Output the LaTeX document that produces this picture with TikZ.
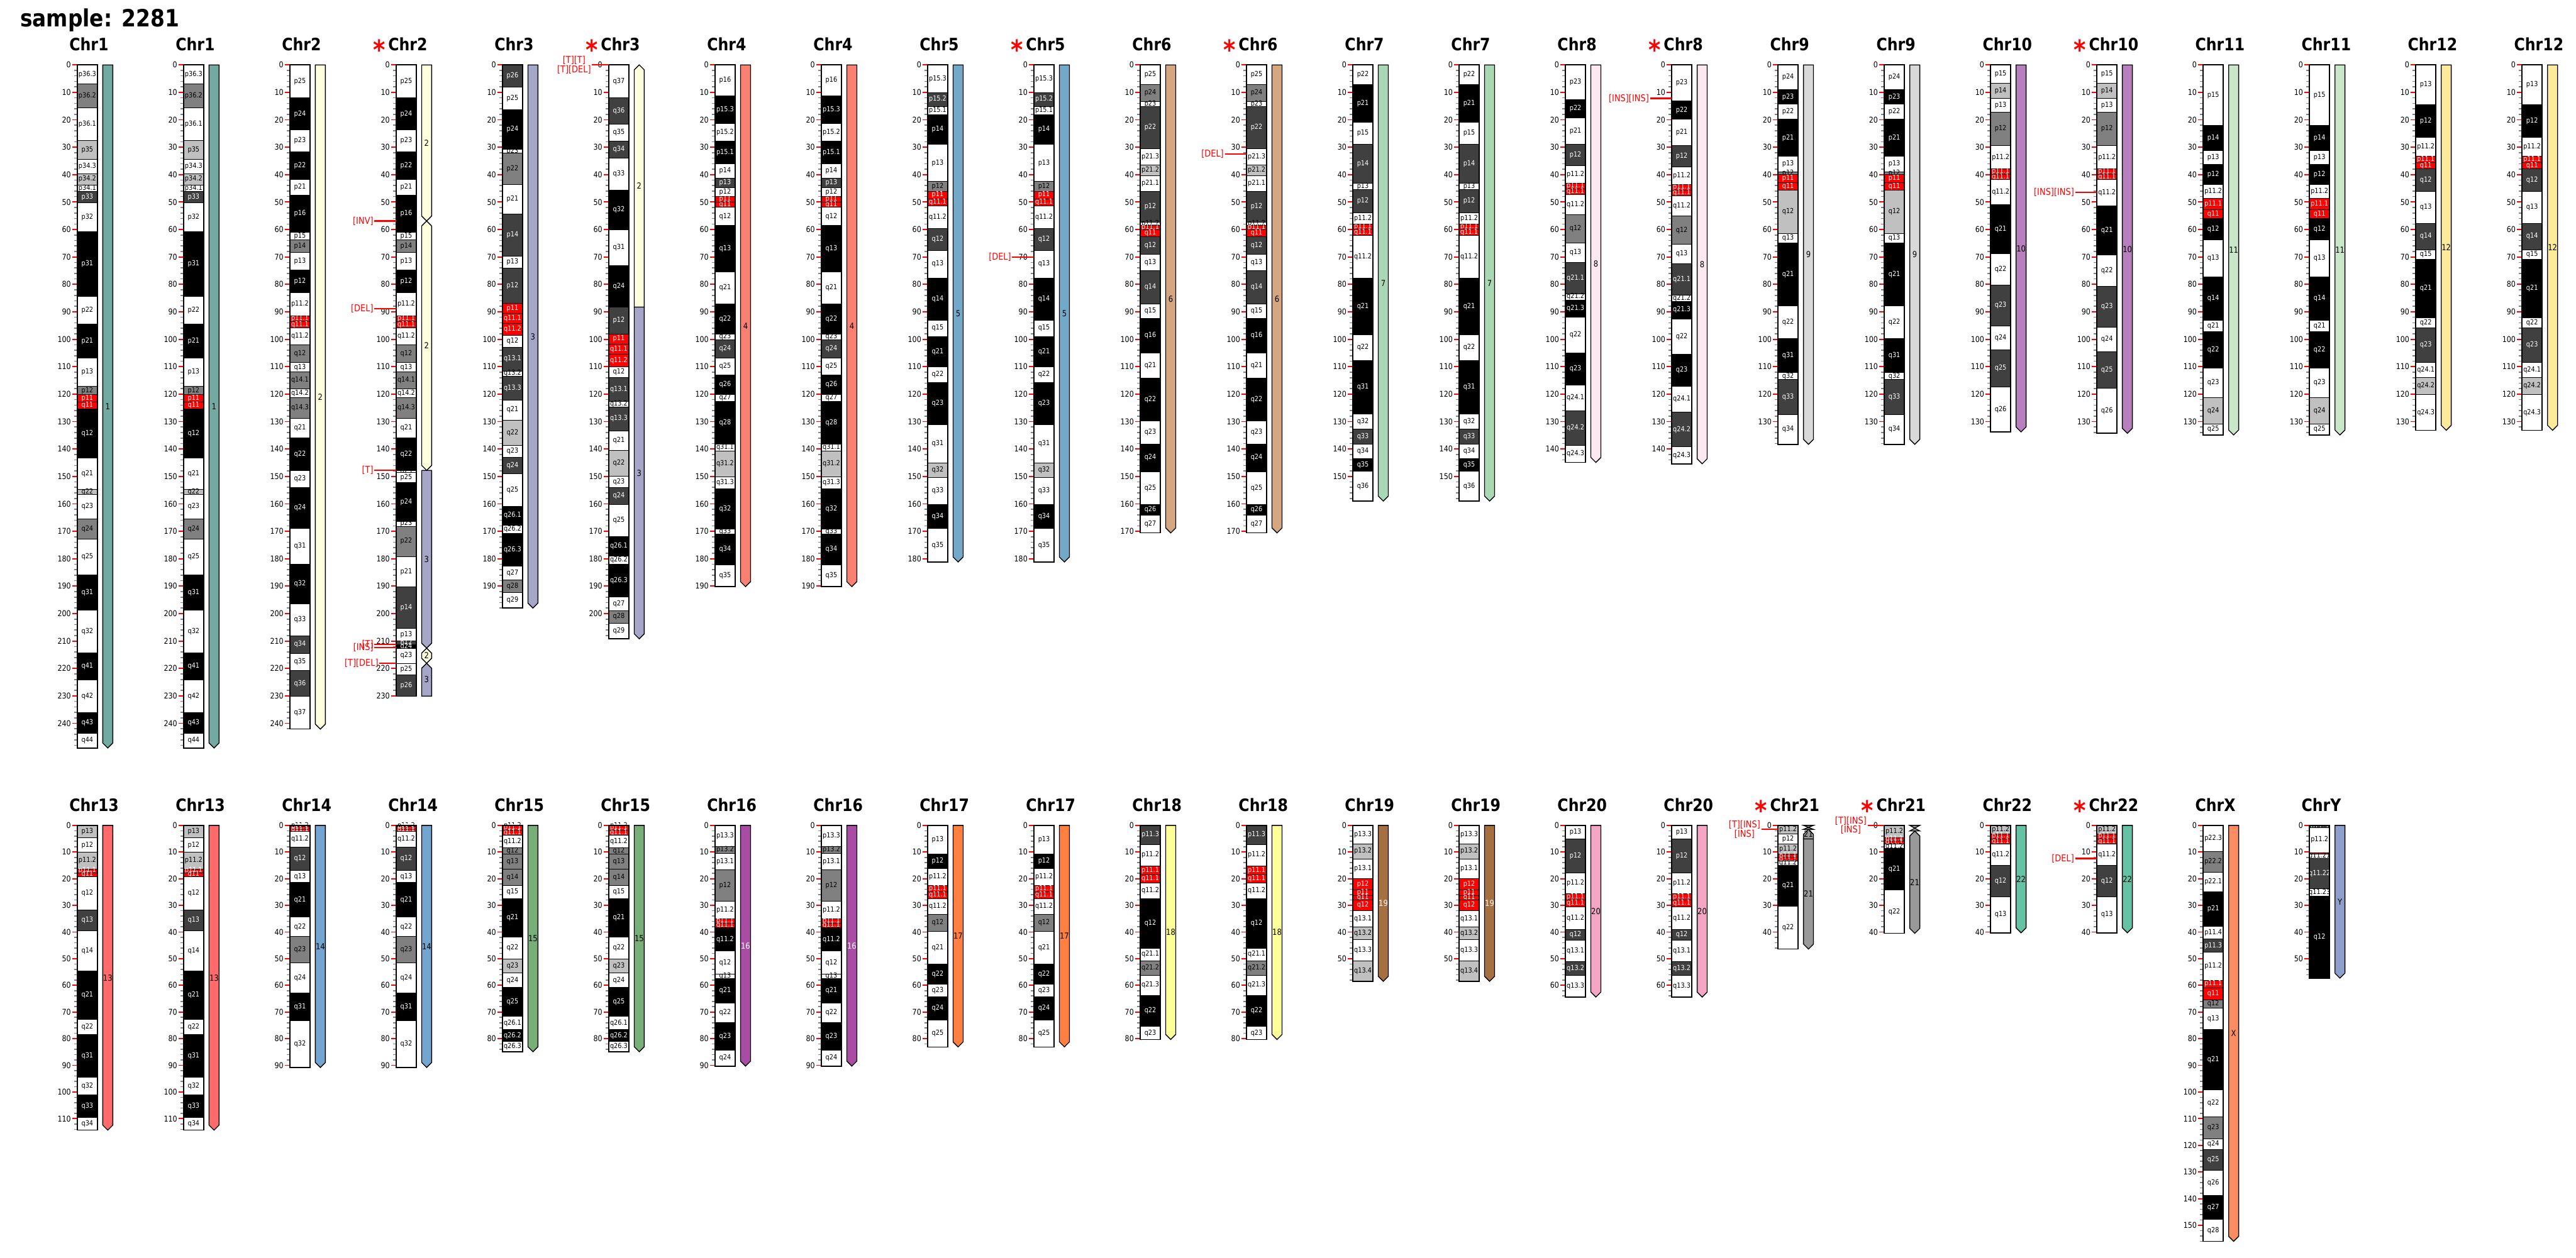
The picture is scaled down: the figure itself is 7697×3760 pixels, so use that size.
\documentclass[tikz,border=0pt]{standalone}
\usepackage{fontspec}
\setmainfont{DejaVu Sans}[FakeStretch=0.87]
\definecolor{fw}{HTML}{FFFFFF}
\definecolor{fl}{HTML}{C0C0C0}
\definecolor{fm}{HTML}{808080}
\definecolor{fd}{HTML}{404040}
\definecolor{fk}{HTML}{000000}
\definecolor{fr}{HTML}{FF0000}
\colorlet{tw}{black}\colorlet{tl}{black}\colorlet{tm}{black}
\colorlet{td}{white}\colorlet{tk}{white}\colorlet{tr}{white}
\definecolor{chrc1}{HTML}{72AAA1}
\definecolor{chrc2}{HTML}{FFFFDD}
\definecolor{chrc3}{HTML}{A6A6C8}
\definecolor{chrc4}{HTML}{FA8072}
\definecolor{chrc5}{HTML}{72A9C8}
\definecolor{chrc6}{HTML}{D4A780}
\definecolor{chrc7}{HTML}{A8D8B4}
\definecolor{chrc8}{HTML}{FCE8F0}
\definecolor{chrc9}{HTML}{D9D9D9}
\definecolor{chrc10}{HTML}{B87FBE}
\definecolor{chrc11}{HTML}{C8E6C8}
\definecolor{chrc12}{HTML}{FDEB9C}
\definecolor{chrc13}{HTML}{FF6B6B}
\definecolor{chrc14}{HTML}{72A6D1}
\definecolor{chrc15}{HTML}{78AF78}
\definecolor{chrc16}{HTML}{A84CA4}
\definecolor{chrc17}{HTML}{FF8040}
\definecolor{chrc18}{HTML}{FFFF99}
\definecolor{chrc19}{HTML}{A66F40}
\definecolor{chrc20}{HTML}{F4A6C4}
\definecolor{chrc21}{HTML}{999999}
\definecolor{chrc22}{HTML}{66C2A5}
\definecolor{chrcX}{HTML}{FC8D62}
\definecolor{chrcY}{HTML}{8DA0CB}
\tikzset{
  band/.style={draw=black, line width=1},
  bandlabel/.style={inner sep=0, font=\fontsize{21}{21}\selectfont},
  chromoutline/.style={draw=black, line width=3},
  tickminor/.style={draw=gray, line width=3},
  tickmajor/.style={draw=red, line width=3.5},
  ticklabel/.style={anchor=east, inner sep=0, font=\fontsize{24}{24}\selectfont},
  chrtitle/.style={anchor=base west, inner sep=0, font=\bfseries\fontsize{51}{51}\selectfont},
  startext/.style={anchor=base, inner sep=0, text=red, font=\bfseries\fontsize{80}{80}\selectfont},
  barshape/.style={draw=black, line width=2.5, line join=miter},
  barlabel/.style={inner sep=0, font=\fontsize{25}{25}\selectfont},
  markline/.style={draw=red, line width=4},
  marklabel/.style={anchor=east, inner sep=0, text=red, align=center, font=\fontsize{28}{28}\selectfont},
}
\newcommand\setpos[2]{%
  \pgfmathsetmacro\X{231+317.6*#1}%
  \ifnum#2=1 \def\yz{194}\def\kk{8.2}\else\def\yz{2467}\def\kk{7.97}\fi}
\newcommand\ideo[5]{%
  \setpos{#1}{#2}%
  \pgfmathtruncatemacro\mxm{2*floor(#3/2)}%
  \pgfmathtruncatemacro\mxM{10*floor(#3/10)}%
  \foreach \tk in {0,2,...,\mxm}{\draw[tickminor] ({\X-9},{\yz+\tk*\kk}) -- ({\X-2},{\yz+\tk*\kk});}%
  \foreach \bE/\bC/\bL [remember=\bE as \bS (initially 0)] in #5 {%
    \draw[band, fill=f\bC] (\X,{\yz+\bS*\kk}) rectangle ({\X+60},{\yz+\bE*\kk});
    \node[bandlabel, text=t\bC] at ({\X+30},{\yz+(\bS+\bE)/2*\kk}) {\bL};
  }%
  \draw[chromoutline] (\X,\yz) rectangle ({\X+60},{\yz+#3*\kk});
  \foreach \tk in {0,10,...,\mxM}{%
    \draw[tickmajor] ({\X-15},{\yz+\tk*\kk}) -- ({\X-2},{\yz+\tk*\kk});
    \node[ticklabel] at ({\X-19},{\yz+\tk*\kk}) {\tk};
  }%
  \node[chrtitle] (title-#2-#1) at ({\X-24},{\yz-42}) {#4};
}
\newcommand\barseg[9]{%
  \setpos{#1}{#2}%
  \pgfmathsetmacro\xl{\X+76}\pgfmathsetmacro\xr{\X+106}\pgfmathsetmacro\xc{\X+91}%
  \pgfmathsetmacro\ys{\yz+#3*\kk}\pgfmathsetmacro\ye{\yz+#4*\kk}%
  \pgfmathsetmacro\ysp{\ys+15}\pgfmathsetmacro\yep{\ye-15}%
  \pgfmathsetmacro\ym{(\ys+\ye)/2}%
  \ifnum#7=1 \def\toppart{(\xl,\ysp) -- (\xc,\ys) -- (\xr,\ysp)}\else\def\toppart{(\xl,\ys) -- (\xr,\ys)}\fi
  \ifnum#8=1 \def\botpart{(\xr,\yep) -- (\xc,\ye) -- (\xl,\yep)}\else\def\botpart{(\xr,\ye) -- (\xl,\ye)}\fi
  \draw[barshape, fill=#5] \toppart -- \botpart -- cycle;
  \node[barlabel, text=#9] at (\xc,\ym) {#6};
}
\newcommand\barhour[5]{%
  \setpos{#1}{#2}%
  \pgfmathsetmacro\xl{\X+76}\pgfmathsetmacro\xr{\X+106}\pgfmathsetmacro\xc{\X+91}%
  \pgfmathsetmacro\ys{\yz+#3*\kk}\pgfmathsetmacro\ye{\yz+#4*\kk}%
  \pgfmathsetmacro\ym{(\ys+\ye)/2}%
  \draw[barshape, fill=#5] (\xl,\ys) -- (\xr,\ys) -- (\xc,\ym) -- cycle;
  \draw[barshape, fill=#5] (\xl,\ye) -- (\xr,\ye) -- (\xc,\ym) -- cycle;
}
\newcommand\normbar[5]{\barseg{#1}{#2}{0}{#3}{#4}{#5}{0}{1}{black}}
\newcommand\abstar[2]{\setpos{#1}{#2}\node[startext] (star-#2-#1) at ({\X-51},{\yz-16}) {*};}
\newcommand\mutmark[5]{%
  \setpos{#1}{#2}%
  \draw[markline] ({\X-#4},{\yz+#3*\kk}) -- (\X,{\yz+#3*\kk});
  \node[marklabel] at ({\X-#4-3},{\yz+#3*\kk}) {#5};
}
% ---------------- band data ----------------
\def\bOne{6.9/w/p36.3, 15.6/m/p36.2, 27.6/w/p36.1, 34.3/l/p35, 39.6/w/p34.3, 43.7/l/p34.2, 46.1/w/p34.1, 50.2/d/p33, 60.8/w/p32, 84.3/k/p31, 94.4/w/p22, 106.8/k/p21, 117.2/w/p13, 120.2/m/p12, 122.8/r/p11, 125.3/r/q11, 143.2/k/q12, 154.8/w/q21, 156.6/l/q22, 165.4/w/q23, 172.8/m/q24, 185.9/w/q25, 198.7/k/q31, 214.2/w/q32, 224.1/k/q41, 236.1/w/q42, 243.5/k/q43, 249.0/w/q44}
\def\bTwo{12.0/w/p25, 23.7/k/p24, 31.6/w/p23, 41.7/k/p22, 47.4/w/p21, 61.0/k/p16, 63.8/w/p15, 68.4/m/p14, 74.8/w/p13, 82.9/k/p12, 91.4/w/p11.2, 93.5/r/p11.1, 95.8/r/q11.1, 102.0/w/q11.2, 108.5/m/q12, 111.9/w/q13, 118.1/m/q14.1, 121.3/w/q14.2, 128.8/m/q14.3, 135.9/w/q21, 147.8/k/q22, 154.0/w/q23, 169.0/k/q24, 181.9/w/q31, 196.5/k/q32, 208.0/w/q33, 214.4/d/q34, 220.8/w/q35, 230.1/d/q36, 242.1/w/q37}
\def\bTwoB{12.0/w/p25, 23.7/k/p24, 31.6/w/p23, 41.7/k/p22, 47.4/w/p21, 61.0/k/p16, 63.8/w/p15, 68.4/m/p14, 74.8/w/p13, 82.9/k/p12, 91.4/w/p11.2, 93.5/r/p11.1, 95.8/r/q11.1, 102.0/w/q11.2, 108.5/m/q12, 111.9/w/q13, 118.1/m/q14.1, 121.3/w/q14.2, 128.8/m/q14.3, 135.9/w/q21, 147.8/k/q22, 148.5/w/q23, 152.2/w/p25, 166.3/k/p24, 168.1/w/p23, 179.2/m/p22, 190.2/w/p21, 205.4/d/p14, 210.0/w/p13, 211.4/d/p12, 212.6/k/q24, 218.1/w/q23, 222.3/w/p25, 230.1/d/p26}
\def\bThree{8.1/d/p26, 16.2/w/p25, 30.8/k/p24, 32.0/w/p23, 43.6/m/p22, 54.3/w/p21, 69.7/d/p14, 74.0/w/p13, 86.9/d/p12, 90.6/r/p11, 94.1/r/q11.1, 98.5/r/q11.2, 102.8/w/q12, 111.5/d/q13.1, 113.4/w/q13.2, 122.1/d/q13.3, 129.4/w/q21, 138.7/l/q22, 143.0/w/q23, 149.0/d/q24, 160.8/w/q25, 167.7/k/q26.1, 170.8/w/q26.2, 182.7/k/q26.3, 187.8/w/q27, 192.3/m/q28, 198.0/w/q29}
\def\bThreeB{12.0/w/q37, 21.5/d/q36, 27.7/w/q35, 34.0/d/q34, 45.6/w/q33, 60.0/k/q32, 73.1/w/q31, 88.3/k/q24, 98.0/d/p12, 101.7/r/p11, 105.5/r/q11.1, 109.9/r/q11.2, 114.0/w/q12, 122.7/d/q13.1, 124.6/w/q13.2, 133.3/d/q13.3, 140.4/w/q21, 149.9/l/q22, 154.1/w/q23, 160.1/d/q24, 171.9/w/q25, 179.0/k/q26.1, 182.0/w/q26.2, 193.8/k/q26.3, 198.9/w/q27, 203.4/m/q28, 209.2/w/q29}
\def\bFour{11.3/w/p16, 21.4/k/p15.3, 27.7/w/p15.2, 36.0/k/p15.1, 41.2/w/p14, 44.8/d/p13, 48.0/w/p12, 50.0/r/p11, 51.9/r/q11, 58.5/w/q12, 75.3/k/q13, 87.1/w/q21, 98.0/k/q22, 100.1/w/q23, 106.7/d/q24, 113.0/w/q25, 120.0/k/q26, 122.7/w/q27, 138.3/k/q28, 140.6/w/q31.1, 150.1/l/q31.2, 154.4/w/q31.3, 169.1/k/q32, 171.0/w/q33, 182.2/k/q34, 190.2/w/q35}
\def\bFive{10.0/w/p15.3, 15.1/d/p15.2, 18.2/w/p15.1, 28.9/k/p14, 42.5/w/p13, 46.0/m/p12, 48.8/r/p11, 51.4/r/q11.1, 59.5/w/q11.2, 67.5/d/q12, 77.6/w/q13, 93.0/k/q14, 98.9/w/q15, 110.0/k/q21, 115.8/w/q22, 131.0/k/q23, 145.0/w/q31, 150.3/l/q32, 160.3/w/q33, 169.0/k/q34, 181.2/w/q35}
\def\bSix{7.0/w/p25, 13.3/m/p24, 15.1/w/p23, 30.4/d/p22, 36.5/w/p21.3, 40.3/l/p21.2, 46.0/w/p21.1, 57.2/d/p12, 58.4/w/p11.2, 60.0/r/p11.1, 62.5/r/q11, 69.0/d/q12, 75.0/w/q13, 87.0/d/q14, 92.4/w/q15, 104.9/k/q16, 114.2/w/q21, 129.8/k/q22, 138.1/w/q23, 148.2/k/q24, 160.3/w/q25, 164.0/k/q26, 170.6/w/q27}
\def\bSeven{7.2/w/p22, 20.9/k/p21, 28.9/w/p15, 43.2/d/p14, 45.3/w/p13, 53.8/d/p12, 58.0/w/p11.2, 59.9/r/p11.1, 62.1/r/q11.1, 77.8/w/q11.2, 98.4/k/q21, 107.6/w/q22, 127.3/k/q31, 132.8/w/q32, 138.3/d/q33, 143.4/w/q34, 148.1/k/q35, 159.0/w/q36}
\def\bEight{12.6/w/p23, 19.3/k/p22, 28.9/w/p21, 36.7/d/p12, 43.1/w/p11.2, 45.1/r/p11.1, 47.2/r/q11.1, 54.6/w/q11.2, 64.9/m/q12, 71.9/w/q13, 83.4/d/q21.1, 85.6/w/q21.2, 92.0/k/q21.3, 104.9/w/q22, 116.6/k/q23, 126.1/w/q24.1, 138.7/d/q24.2, 144.9/w/q24.3}
\def\bEightB{13.1/w/p23, 19.8/k/p22, 29.4/w/p21, 37.2/d/p12, 43.6/w/p11.2, 45.6/r/p11.1, 47.7/r/q11.1, 55.1/w/q11.2, 65.4/m/q12, 72.4/w/q13, 83.9/d/q21.1, 86.1/w/q21.2, 92.5/k/q21.3, 105.4/w/q22, 117.1/k/q23, 126.6/w/q24.1, 139.2/d/q24.2, 145.4/w/q24.3}
\def\bNine{9.0/w/p24, 14.3/k/p23, 19.8/w/p22, 33.3/k/p21, 39.0/w/p13, 39.8/m/p12, 42.9/r/p11, 45.6/r/q11, 61.5/l/q12, 64.8/w/q13, 87.8/k/q21, 99.7/w/q22, 112.1/k/q31, 114.7/w/q32, 127.4/d/q33, 138.3/w/q34}
\def\bTen{6.6/w/p15, 12.2/l/p14, 17.2/w/p13, 29.4/m/p12, 37.9/w/p11.2, 39.9/r/p11.1, 41.7/r/q11.1, 50.9/w/q11.2, 68.7/k/q21, 80.2/w/q22, 95.1/d/q23, 103.9/w/q24, 117.3/d/q25, 133.8/w/q26}
\def\bTenB{6.6/w/p15, 12.2/l/p14, 17.2/w/p13, 29.4/m/p12, 37.9/w/p11.2, 39.9/r/p11.1, 41.7/r/q11.1, 51.4/w/q11.2, 69.2/k/q21, 80.7/w/q22, 95.6/d/q23, 104.4/w/q24, 117.8/d/q25, 134.3/w/q26}
\def\bEleven{22.0/w/p15, 31.1/k/p14, 36.3/w/p13, 43.5/k/p12, 48.7/w/p11.2, 52.7/r/p11.1, 55.9/r/q11, 63.7/k/q12, 77.3/w/q13, 93.0/k/q14, 97.2/w/q21, 110.5/k/q22, 121.3/w/q23, 130.8/l/q24, 134.9/w/q25}
\def\bTwelve{14.4/w/p13, 26.3/k/p12, 33.2/w/p11.2, 35.5/r/p11.1, 37.8/r/q11, 46.0/d/q12, 57.7/w/q13, 67.3/d/q14, 70.8/w/q15, 92.2/k/q21, 95.8/w/q22, 108.5/d/q23, 113.8/w/q24.1, 120.2/l/q24.2, 133.2/w/q24.3}
\def\bThirteen{4.6/l/p13, 10.1/w/p12, 16.3/l/p11.2, 17.7/r/p11.1, 19.1/r/q11, 31.6/w/q12, 39.5/d/q13, 54.5/w/q14, 72.8/k/q21, 78.4/w/q22, 94.5/k/q31, 101.0/w/q32, 109.6/k/q33, 114.3/w/q34}
\def\bFourteen{0.3/l/p11.2, 1.2/r/p11.1, 2.2/r/q11.1, 8.0/w/q11.2, 16.9/d/q12, 21.4/w/q13, 34.4/k/q21, 41.7/w/q22, 51.5/m/q23, 62.8/w/q24, 73.3/k/q31, 90.8/w/q32}
\def\bFifteen{0.2/l/p11.2, 1.8/r/p11.1, 3.6/r/q11.1, 8.3/w/q11.2, 10.7/m/q12, 16.3/m/q13, 22.6/m/q14, 27.4/w/q15, 41.8/k/q21, 50.1/w/q22, 55.3/l/q23, 60.8/w/q24, 71.6/k/q25, 76.6/w/q26.1, 81.0/k/q26.2, 84.9/w/q26.3}
\def\bSixteen{7.8/w/p13.3, 10.4/m/p13.2, 16.6/w/p13.1, 28.4/m/p12, 35.1/w/p11.2, 36.6/r/p11.1, 38.4/r/q11.1, 47.1/k/q11.2, 55.8/w/q12, 57.3/w/q13, 66.6/k/q21, 74.0/w/q22, 84.2/k/q23, 90.3/w/q24}
\def\bSeventeen{10.7/w/p13, 16.1/k/p12, 22.5/w/p11.2, 24.8/r/p11.1, 27.4/r/q11.1, 33.3/w/q11.2, 39.7/m/q12, 52.0/w/q21, 59.4/k/q22, 64.3/w/q23, 73.0/k/q24, 83.1/w/q25}
\def\bEighteen{7.1/d/p11.3, 15.1/w/p11.2, 18.6/r/p11.1, 21.5/r/q11.1, 27.4/w/q11.2, 46.0/k/q12, 50.7/w/q21.1, 56.1/m/q21.2, 63.7/w/q21.3, 75.4/k/q22, 80.3/w/q23}
\def\bNineteen{6.9/w/p13.3, 12.5/l/p13.2, 19.8/w/p13.1, 24.2/r/p12, 26.2/r/p11, 28.0/r/q11, 31.9/r/q12, 38.0/w/q13.1, 42.8/l/q13.2, 50.9/w/q13.3, 58.5/l/q13.4}
\def\bTwenty{5.1/w/p13, 17.9/d/p12, 25.5/w/p11.2, 28.0/r/p11.1, 30.4/r/q11.1, 39.0/w/q11.2, 43.1/d/q12, 51.1/w/q13.1, 56.3/d/q13.2, 64.4/w/q13.3}
\def\bTwentyOneA{3.05/l/p11.2, 7.0/w/p12, 10.8/l/p11.2, 12.0/r/p11.1, 13.2/r/q11.1, 15.0/w/q11.2, 30.3/k/q21, 46.4/w/q22}
\def\bTwentyOneB{4.5/l/p11.2, 5.7/r/p11.1, 7.0/r/q11.1, 8.7/w/q11.2, 24.2/k/q21, 40.5/w/q22}
\def\bTwentyTwo{3.05/l/p11.2, 5.0/r/p11.1, 7.0/r/q11.1, 14.9/w/q11.2, 26.7/d/q12, 40.3/w/q13}
\def\bX{9.7/w/p22.3, 17.5/m/p22.2, 24.9/w/p22.1, 37.8/k/p21, 42.6/w/p11.4, 47.6/d/p11.3, 58.0/w/p11.2, 60.9/r/p11.1, 65.4/r/q11, 68.4/m/q12, 76.6/w/q13, 99.1/k/q21, 109.2/w/q22, 117.4/m/q23, 121.6/w/q24, 129.3/d/q25, 138.8/w/q26, 147.8/k/q27, 156.0/w/q28}
\def\bY{0.7/d/p11.3, 10.2/w/p11.2, 10.6/r/{}, 12.4/w/q11.21, 23.7/d/q11.22, 26.5/w/q11.23, 57.3/k/q12}
\begin{document}
\begin{tikzpicture}[x=1pt,y=-1pt]
\useasboundingbox (0,0) rectangle (7697,3760);
\fill[white] (0,0) rectangle (7697,3760);
\node[anchor=base west, inner sep=0, font=\bfseries\fontsize{71}{71}\selectfont] (sample) at (60,80) {sample: 2281};
% ---------------- row 1 ----------------
\ideo{0}{1}{249.0}{Chr1}{\bOne}\normbar{0}{1}{249.0}{chrc1}{1}
\ideo{1}{1}{249.0}{Chr1}{\bOne}\normbar{1}{1}{249.0}{chrc1}{1}
\ideo{2}{1}{242.1}{Chr2}{\bTwo}\normbar{2}{1}{242.1}{chrc2}{2}
\ideo{3}{1}{230.1}{Chr2}{\bTwoB}\abstar{3}{1}
\barseg{3}{1}{0}{56.9}{chrc2}{2}{0}{1}{black}
\barseg{3}{1}{56.9}{147.8}{chrc2}{2}{1}{1}{black}
\barseg{3}{1}{147.8}{212.6}{chrc3}{3}{0}{1}{black}
\barseg{3}{1}{212.6}{218.1}{chrc2}{2}{1}{1}{black}
\barseg{3}{1}{218.1}{230.1}{chrc3}{3}{1}{0}{black}
\mutmark{3}{1}{56.9}{65}{[INV]}
\mutmark{3}{1}{88.9}{65}{[DEL]}
\mutmark{3}{1}{147.8}{65}{[T]}
\mutmark{3}{1}{211.2}{65}{[T]}
\mutmark{3}{1}{212.4}{65}{[INS]}
\mutmark{3}{1}{218.1}{50}{[T][DEL]}
\ideo{4}{1}{198.0}{Chr3}{\bThree}\normbar{4}{1}{198.0}{chrc3}{3}
\ideo{5}{1}{209.2}{Chr3}{\bThreeB}\abstar{5}{1}
\barseg{5}{1}{0}{88.3}{chrc2}{2}{1}{0}{black}
\barseg{5}{1}{88.3}{209.2}{chrc3}{3}{0}{1}{black}
\mutmark{5}{1}{0}{50}{[T][T]\\{}[T][DEL]}
\ideo{6}{1}{190.2}{Chr4}{\bFour}\normbar{6}{1}{190.2}{chrc4}{4}
\ideo{7}{1}{190.2}{Chr4}{\bFour}\normbar{7}{1}{190.2}{chrc4}{4}
\ideo{8}{1}{181.2}{Chr5}{\bFive}\normbar{8}{1}{181.2}{chrc5}{5}
\ideo{9}{1}{181.2}{Chr5}{\bFive}\normbar{9}{1}{181.2}{chrc5}{5}\abstar{9}{1}
\mutmark{9}{1}{70.1}{65}{[DEL]}
\ideo{10}{1}{170.6}{Chr6}{\bSix}\normbar{10}{1}{170.6}{chrc6}{6}
\ideo{11}{1}{170.6}{Chr6}{\bSix}\normbar{11}{1}{170.6}{chrc6}{6}\abstar{11}{1}
\mutmark{11}{1}{32.4}{65}{[DEL]}
\ideo{12}{1}{159.0}{Chr7}{\bSeven}\normbar{12}{1}{159.0}{chrc7}{7}
\ideo{13}{1}{159.0}{Chr7}{\bSeven}\normbar{13}{1}{159.0}{chrc7}{7}
\ideo{14}{1}{144.9}{Chr8}{\bEight}\normbar{14}{1}{144.9}{chrc8}{8}
\ideo{15}{1}{145.4}{Chr8}{\bEightB}\normbar{15}{1}{145.4}{chrc8}{8}\abstar{15}{1}
\mutmark{15}{1}{12.2}{65}{[INS][INS]}
\ideo{16}{1}{138.3}{Chr9}{\bNine}\normbar{16}{1}{138.3}{chrc9}{9}
\ideo{17}{1}{138.3}{Chr9}{\bNine}\normbar{17}{1}{138.3}{chrc9}{9}
\ideo{18}{1}{133.8}{Chr10}{\bTen}\normbar{18}{1}{133.8}{chrc10}{10}
\ideo{19}{1}{134.3}{Chr10}{\bTenB}\normbar{19}{1}{134.3}{chrc10}{10}\abstar{19}{1}
\mutmark{19}{1}{46.4}{65}{[INS][INS]}
\ideo{20}{1}{134.9}{Chr11}{\bEleven}\normbar{20}{1}{134.9}{chrc11}{11}
\ideo{21}{1}{134.9}{Chr11}{\bEleven}\normbar{21}{1}{134.9}{chrc11}{11}
\ideo{22}{1}{133.2}{Chr12}{\bTwelve}\normbar{22}{1}{133.2}{chrc12}{12}
\ideo{23}{1}{133.2}{Chr12}{\bTwelve}\normbar{23}{1}{133.2}{chrc12}{12}
% ---------------- row 2 ----------------
\ideo{0}{2}{114.3}{Chr13}{\bThirteen}\normbar{0}{2}{114.3}{chrc13}{13}
\ideo{1}{2}{114.3}{Chr13}{\bThirteen}\normbar{1}{2}{114.3}{chrc13}{13}
\ideo{2}{2}{90.8}{Chr14}{\bFourteen}\normbar{2}{2}{90.8}{chrc14}{14}
\ideo{3}{2}{90.8}{Chr14}{\bFourteen}\normbar{3}{2}{90.8}{chrc14}{14}
\ideo{4}{2}{84.9}{Chr15}{\bFifteen}\normbar{4}{2}{84.9}{chrc15}{15}
\ideo{5}{2}{84.9}{Chr15}{\bFifteen}\normbar{5}{2}{84.9}{chrc15}{15}
\ideo{6}{2}{90.3}{Chr16}{\bSixteen}\barseg{6}{2}{0}{90.3}{chrc16}{16}{0}{1}{white}
\ideo{7}{2}{90.3}{Chr16}{\bSixteen}\barseg{7}{2}{0}{90.3}{chrc16}{16}{0}{1}{white}
\ideo{8}{2}{83.1}{Chr17}{\bSeventeen}\normbar{8}{2}{83.1}{chrc17}{17}
\ideo{9}{2}{83.1}{Chr17}{\bSeventeen}\normbar{9}{2}{83.1}{chrc17}{17}
\ideo{10}{2}{80.3}{Chr18}{\bEighteen}\normbar{10}{2}{80.3}{chrc18}{18}
\ideo{11}{2}{80.3}{Chr18}{\bEighteen}\normbar{11}{2}{80.3}{chrc18}{18}
\ideo{12}{2}{58.5}{Chr19}{\bNineteen}\barseg{12}{2}{0}{58.5}{chrc19}{19}{0}{1}{white}
\ideo{13}{2}{58.5}{Chr19}{\bNineteen}\barseg{13}{2}{0}{58.5}{chrc19}{19}{0}{1}{white}
\ideo{14}{2}{64.4}{Chr20}{\bTwenty}\normbar{14}{2}{64.4}{chrc20}{20}
\ideo{15}{2}{64.4}{Chr20}{\bTwenty}\normbar{15}{2}{64.4}{chrc20}{20}
\ideo{16}{2}{46.4}{Chr21}{\bTwentyOneA}\abstar{16}{2}
\barhour{16}{2}{0}{1.5}{chrc21}
\barseg{16}{2}{1.5}{5.1}{chrc21}{21}{1}{0}{black}
\barseg{16}{2}{5.1}{46.4}{chrc21}{21}{0}{1}{black}
\mutmark{16}{2}{1.5}{50}{[T][INS]\\{}[INS]}
\ideo{17}{2}{40.5}{Chr21}{\bTwentyOneB}\abstar{17}{2}
\barhour{17}{2}{0}{2.1}{chrc21}
\barseg{17}{2}{2.1}{40.5}{chrc21}{21}{1}{1}{black}
\mutmark{17}{2}{0}{50}{[T][INS]\\{}[INS]}
\ideo{18}{2}{40.3}{Chr22}{\bTwentyTwo}\normbar{18}{2}{40.3}{chrc22}{22}
\ideo{19}{2}{40.3}{Chr22}{\bTwentyTwo}\normbar{19}{2}{40.3}{chrc22}{22}\abstar{19}{2}
\mutmark{19}{2}{12.4}{65}{[DEL]}
\ideo{20}{2}{156.0}{ChrX}{\bX}\normbar{20}{2}{156.0}{chrcX}{X}
\ideo{21}{2}{57.3}{ChrY}{\bY}\normbar{21}{2}{57.3}{chrcY}{Y}
\end{tikzpicture}
\end{document}
